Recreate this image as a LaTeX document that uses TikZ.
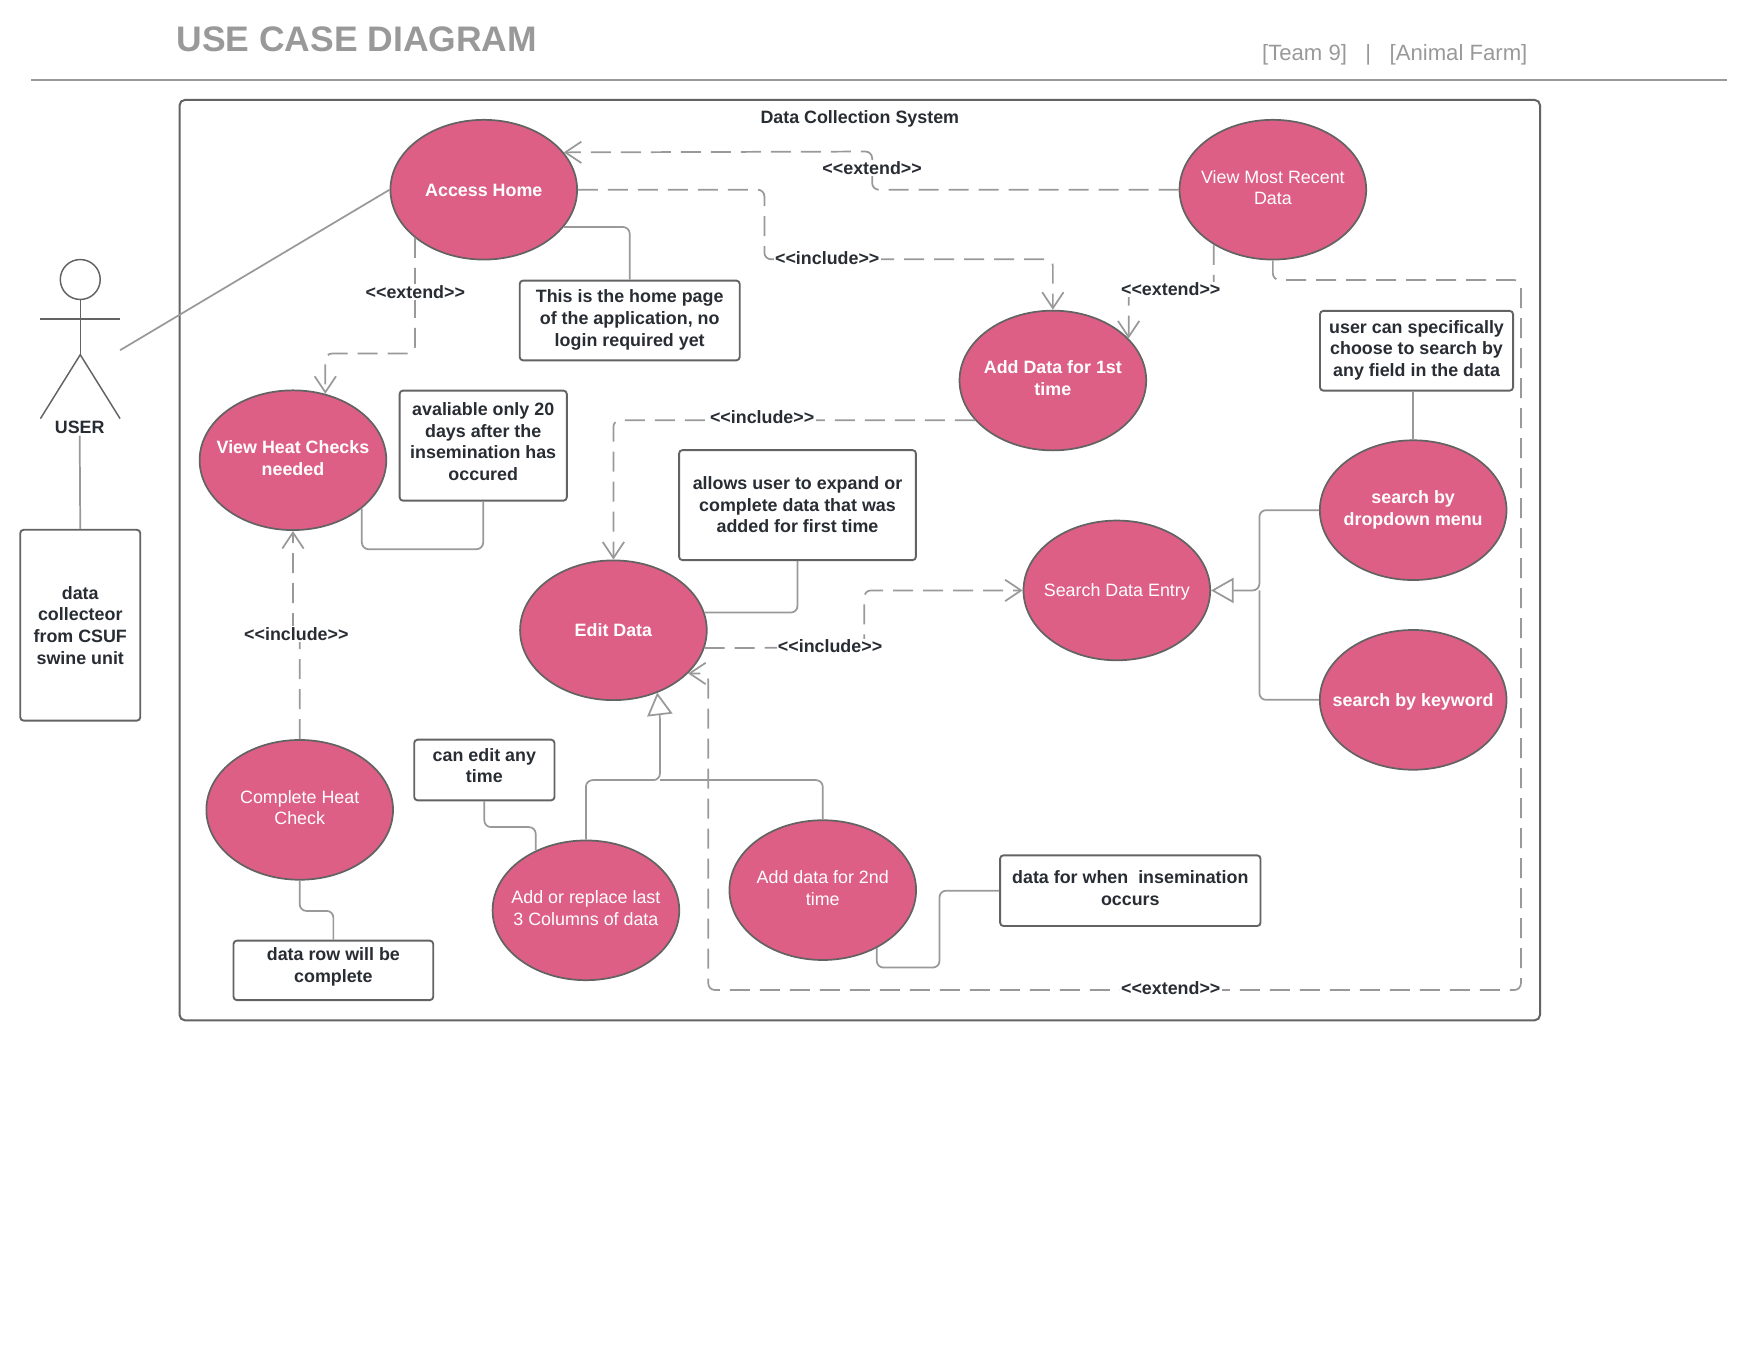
\documentclass[tikz,border=0pt]{standalone}
\usepackage{fontspec}
\setmainfont{Liberation Sans}
\usetikzlibrary{arrows.meta,shapes.geometric}
\definecolor{rosefill}{HTML}{DE5F85}
\definecolor{edgegray}{HTML}{636363}
\definecolor{linegray}{HTML}{999999}
\definecolor{inkdark}{HTML}{282C33}
\newcommand{\bodyfont}{\fontsize{13.4}{16.2}\selectfont}
\tikzset{
  usecase/.style={ellipse,draw=edgegray,line width=1.3pt,fill=rosefill,text=white,minimum width=140pt,minimum height=104.8pt,inner xsep=-20pt,inner ysep=0pt,align=center,font=\bodyfont},
  keycase/.style={usecase,font=\bodyfont\bfseries},
  twolines/.style={text depth=3.4pt},
  notebox/.style={rectangle,draw=edgegray,line width=1.4pt,fill=white,rounded corners=2.5pt,inner sep=0pt,align=center,text=inkdark,font=\bodyfont\bfseries},
  tag/.style={fill=white,inner xsep=1pt,inner ysep=1pt,text=inkdark,font=\bodyfont\bfseries},
  linkline/.style={draw=linegray,line width=1.3pt,rounded corners=5pt},
  depline/.style={linkline,dash pattern=on 15pt off 7.5pt,-{Straight Barb[length=12pt,width=16pt]}},
  genline/.style={linkline,-{Triangle[open,length=17pt,width=19pt,fill=white]}},
  actorline/.style={draw=edgegray,line width=1.1pt}
}

\begin{document}
\begin{tikzpicture}[x=0.84184pt,y=-0.84184pt]
    \useasboundingbox (0,0) rectangle (1568,1211.6);

    \node[anchor=west,inner sep=0pt,text=linegray,font=\fontsize{26.6}{30}\selectfont\bfseries] (title) at (157,35) {USE CASE DIAGRAM};
    \node[anchor=east,inner sep=0pt,text=linegray,font=\fontsize{16.6}{20}\selectfont] (team) at (1361,49) {[Team 9]~~~|~~~[Animal Farm]};
    \draw[linegray,line width=1.5pt] (28,71) -- (1539,71);

    \draw[edgegray,line width=1.5pt,rounded corners=4pt] (160,89) rectangle (1372,909);
    \node[tag,fill=none] (system) at (766,105.5) {Data Collection System};

    % actor
    \draw[actorline] (71.5,249) circle (17.8);
    \draw[actorline] (71.5,267) -- (71.5,316);
    \draw[actorline] (36,284) -- (107,284);
    \draw[actorline] (36,373) -- (71.5,316) -- (107,373);
    \coordinate (actorhand) at (107,312);
    \node[tag,fill=none] (userlabel) at (71,381) {USER};
    \node[notebox,minimum width=90pt,minimum height=143.1pt] (actorbox) at (71.5,557) {data\\collecteor\\from CSUF\\swine unit};

    % use cases
    \node[keycase,text height=10.7pt] (home) at (431,169) {Access Home};
    \node[usecase,twolines] (recent) at (1134,169) {View Most Recent\\Data};
    \node[keycase,text depth=4pt] (first) at (938,339) {Add Data for 1st\\time};
    \node[keycase,twolines] (heat) at (261,410) {View Heat Checks\\needed};
    \node[keycase] (edit) at (546.5,561.5) {Edit Data};
    \node[usecase,text depth=1.1pt] (search) at (995,526) {Search Data Entry};
    \node[keycase,text depth=3.6pt] (dropdown) at (1259,454.5) {search by\\dropdown menu};
    \node[keycase,text depth=0pt] (keyword) at (1259,623.5) {search by keyword};
    \node[usecase,twolines] (complete) at (267,721.5) {Complete Heat\\Check};
    \node[usecase,twolines] (replace) at (522,811) {Add or replace last\\3 Columns of data};
    \node[usecase,twolines] (second) at (733,793) {Add data for 2nd\\time};

    % notes
    \node[notebox,minimum width=165pt,minimum height=59.8pt,text depth=3.6pt] (homenote) at (561,285.5) {This is the home page\\of the application, no\\login required yet};
    \node[notebox,minimum width=125.4pt,minimum height=82.5pt,text depth=5.9pt] (availnote) at (430.5,397) {avaliable only 20\\days after the\\insemination has\\occured};
    \node[notebox,minimum width=177.6pt,minimum height=82.5pt,text depth=0.8pt] (expandnote) at (710.5,450) {allows user to expand or\\complete data that was\\added for first time};
    \node[notebox,minimum width=144.8pt,minimum height=59.8pt,text depth=3.6pt] (fieldnote) at (1262,312.5) {user can specifically\\choose to search by\\any field in the data};
    \node[notebox,minimum width=105.2pt,minimum height=45.5pt,text depth=6.8pt] (anytimenote) at (431.5,686) {can edit any\\time};
    \node[notebox,minimum width=149.8pt,minimum height=44.6pt,text depth=7.8pt] (rownote) at (297,864.5) {data row will be\\complete};
    \node[notebox,minimum width=195.3pt,minimum height=53pt,text depth=4.2pt] (whennote) at (1007,793.5) {data for when~ insemination\\occurs};

    % plain links
    \draw[linkline] (actorhand) -- (home.west);
    \draw[linkline] (userlabel.south) -- (actorbox.north);
    \draw[linkline] (home.335) -| (homenote.north);
    \draw[linkline] (heat.325) -- ++(0,36.3) -| (availnote.south);
    \draw[linkline] (expandnote.south) |- (edit.11);
    \draw[linkline] (complete.south) -- ++(0,27) -| (rownote.north);
    \draw[linkline] (anytimenote.south) -- ++(0,23) -| (replace.130);
    \draw[linkline] (second.313) |- (837,862) |- (whennote.west);
    \draw[linkline] (dropdown.north) -- (dropdown.north |- fieldnote.south);

    % generalisation
    \coordinate (editjoin) at (588,695);
    \coordinate (searchjoin) at (1122,526);
    \draw[linkline] (second.north) |- (editjoin);
    \draw[genline] (replace.north) |- (editjoin) -- (588,638) -- (585.5,617);
    \draw[linkline] (keyword.west) -| (searchjoin);
    \draw[genline] (dropdown.west) -| (searchjoin) -- (search.east);

    % dependencies
    \draw[depline] (recent.west) -- (777,169) -- (777,135) -- (home.25);
    \draw[depline] (home.east) -- (681,169) -- (681,231) -| (first.north);
    \draw[depline] (home.215) -- ++(0,103) -| (heat.64);
    \draw[depline] (first.207) -| (edit.north);
    \draw[depline] (recent.223) -- ++(0,39) -| (first.29);
    \draw[depline] (recent.south) |- (1355,249.5) -- (1355,882) -| (631,600) -- (edit.330);
    \draw[depline] (edit.349) -- (770,577) |- (search.west);
    \draw[depline] (complete.north) -- (267,564) -- (261,564) -- (heat.south);

    \node[tag] (exttop) at (777,150) {<{}<extend>{}>};
    \node[tag] (inctop) at (737,230) {<{}<include>{}>};
    \node[tag] (extheat) at (370,260) {<{}<extend>{}>};
    \node[tag] (incedit) at (679,372) {<{}<include>{}>};
    \node[tag] (extfirst) at (1043,258) {<{}<extend>{}>};
    \node[tag] (extedit) at (1043,880.5) {<{}<extend>{}>};
    \node[tag] (incsearch) at (739.5,576) {<{}<include>{}>};
    \node[tag] (incheat) at (264,565) {<{}<include>{}>};
\end{tikzpicture}
\end{document}
